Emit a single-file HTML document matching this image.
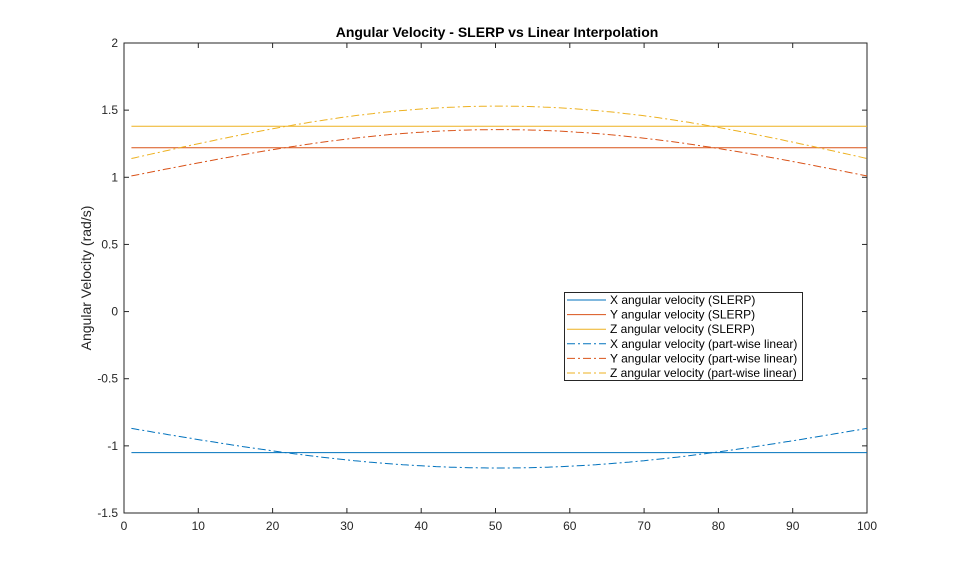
<!DOCTYPE html>
<html><head><style>body{margin:0;background:#fff}svg{display:block;font-family:"Liberation Sans",Arial,sans-serif}</style></head>
<body>
<svg id="s" width="959" height="577" xmlns="http://www.w3.org/2000/svg">
<rect width="959" height="577" fill="#fff"/>
<rect x="124" y="43" width="743" height="470" fill="#fff" stroke="#262626" stroke-width="1"/>
<g id="ticks" stroke="#262626" stroke-width="1"></g>
<g id="lbl" font-size="12" fill="#262626"></g>
<text x="497" y="37" text-anchor="middle" font-size="14" font-weight="bold" fill="#000">Angular Velocity - SLERP vs Linear Interpolation</text>
<text transform="translate(91,278) rotate(-90)" text-anchor="middle" font-size="14" fill="#262626">Angular Velocity (rad/s)</text>
<g id="data" fill="none" stroke-width="1"></g>
<rect x="564.5" y="292.5" width="238" height="88" fill="#fff" stroke="#262626"/>
<g id="leg" font-size="12" fill="#000"></g>
</svg>
<script>
const X0=124,X1=867,Y0=43,Y1=513;
const px=x=>X0+(X1-X0)*x/100, py=y=>Y0+(2-y)*(Y1-Y0)/3.5;
const ns="http://www.w3.org/2000/svg";
function el(p,t,a,txt){const e=document.createElementNS(ns,t);for(const k in a)e.setAttribute(k,a[k]);if(txt!==undefined)e.textContent=txt;document.getElementById(p).appendChild(e);}
for(let x=0;x<=100;x+=10){el("ticks","line",{x1:px(x),x2:px(x),y1:Y1,y2:Y1-5});el("ticks","line",{x1:px(x),x2:px(x),y1:Y0,y2:Y0+5});el("lbl","text",{x:px(x),y:530,"text-anchor":"middle"},x);}
for(let i=0;i<=7;i++){const y=-1.5+i*0.5;el("ticks","line",{x1:X0,x2:X0+5,y1:py(y),y2:py(y)});el("ticks","line",{x1:X1,x2:X1-5,y1:py(y),y2:py(y)});el("lbl","text",{x:118,y:py(y)+4,"text-anchor":"end"},String(y));}
const C=["#0072BD","#D95319","#EDB120"];
const S=[-1.05,1.22,1.38];
const A=[[-0.87,-1.165],[1.01,1.355],[1.14,1.53]];
for(let k=0;k<3;k++){
el("data","line",{x1:px(1),x2:px(100),y1:py(S[k]),y2:py(S[k]),stroke:C[k]});
let d="";for(let x=1;x<=100;x+=0.5){const v=A[k][0]+(A[k][1]-A[k][0])*Math.sin(Math.PI*(x-1)/99);d+=(x==1?"M":"L")+px(x).toFixed(1)+","+py(v).toFixed(1);}
el("data","path",{d:d,stroke:C[k],"stroke-dasharray":"8,3,2,3"});
}
const L=["X angular velocity (SLERP)","Y angular velocity (SLERP)","Z angular velocity (SLERP)","X angular velocity (part-wise linear)","Y angular velocity (part-wise linear)","Z angular velocity (part-wise linear)"];
for(let i=0;i<6;i++){const y=300+i*14.6;const a={x1:567,x2:606,y1:y,y2:y,stroke:C[i%3]};if(i>=3)a["stroke-dasharray"]="8,3,2,3";el("leg","line",a);el("leg","text",{x:610,y:y+4},L[i]);}
</script>
</body></html>
